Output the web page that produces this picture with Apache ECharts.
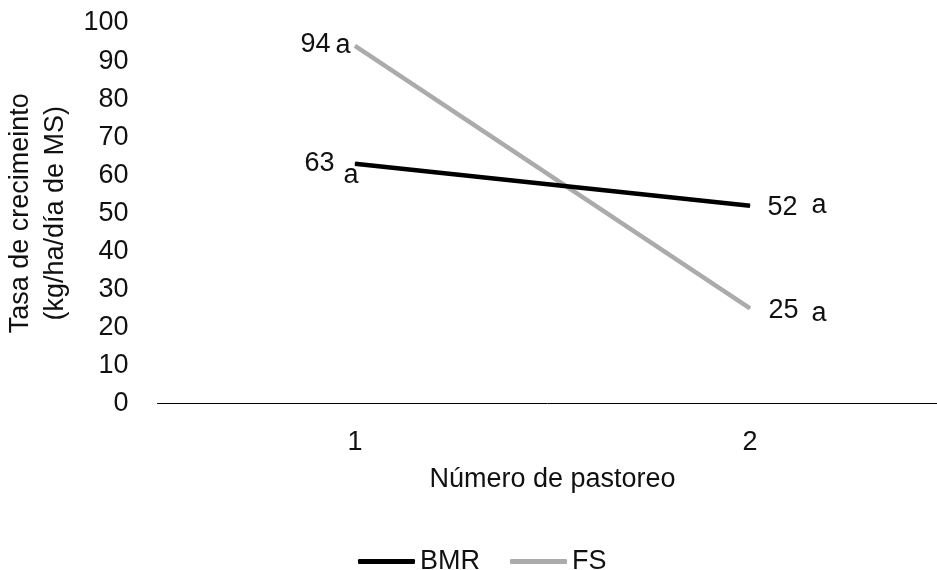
<!DOCTYPE html>
<html>
<head>
<meta charset="utf-8">
<script src="https://cdn.jsdelivr.net/npm/echarts@6/dist/echarts.min.js"></script>
<style>html,body{margin:0;padding:0;background:#fff}#c{width:937px;height:570px}</style>
</head>
<body>
<div id="c"></div>
<script>
const categories = ['1', '2'];
const bmrValues = [63, 52];
const fsValues = [94, 25];
const bmrLetters = ['a', 'a'];
const fsLetters = ['a', 'a'];
const yTicks = [0, 10, 20, 30, 40, 50, 60, 70, 80, 90, 100];

const FONT = '"Liberation Sans", Arial, sans-serif';
const FS_SIZE = 27;
const TXT = '#111';

const chart = echarts.init(document.getElementById('c'), null, {renderer: 'canvas'});

function valLabel(pos, distance, offset) {
  return {show: true, position: pos, distance: distance, offset: offset, opacity: 1,
    fontSize: FS_SIZE, fontFamily: FONT, color: TXT, formatter: '{c}'};
}
function letterLabel(text, pos, distance, offset) {
  return {show: true, position: pos, distance: distance, offset: offset, opacity: 1,
    fontSize: FS_SIZE, fontFamily: FONT, color: TXT, formatter: text};
}

// label styling per point (positions only, values come from the arrays)
const bmrValStyle = [valLabel('left', 20, [0, 0]), valLabel('right', 17, [0, 1.5])];
const fsValStyle = [valLabel('left', 24, [0, -1]), valLabel('right', 18, [0, 2])];
const bmrLetterStyle = [letterLabel(bmrLetters[0], 'inside', 0, [-4, 11.7]), letterLabel(bmrLetters[1], 'right', 61, [0, 0])];
const fsLetterStyle = [letterLabel(fsLetters[0], 'left', 4, [0, 0]), letterLabel(fsLetters[1], 'right', 61, [0, 5])];

function items(vals, styles) {
  return vals.map((v, i) => ({value: v, label: styles[i]}));
}

chart.setOption({
  animation: false,
  backgroundColor: '#fff',
  textStyle: {fontFamily: FONT},
  grid: {left: 157.5, top: 23, width: 790, bottom: 166.5, containLabel: false, outerBoundsMode: 'none'},
  legend: {
    data: ['BMR', 'FS'],
    left: 353, top: 543,
    itemWidth: 57, itemHeight: 5, itemGap: 30,
    textStyle: {fontSize: FS_SIZE, fontFamily: FONT, color: TXT},
    icon: 'roundRect'
  },
  xAxis: {
    type: 'category', data: categories, boundaryGap: true,
    axisLine: {lineStyle: {color: '#000', width: 1}},
    axisTick: {show: false},
    axisLabel: {fontSize: FS_SIZE, fontFamily: FONT, color: TXT, margin: 26},
    name: 'Número de pastoreo', nameLocation: 'middle', nameGap: 63,
    nameTextStyle: {fontSize: FS_SIZE, fontFamily: FONT, color: TXT}
  },
  yAxis: {
    type: 'value', min: yTicks[0], max: yTicks[yTicks.length - 1], interval: 10,
    axisLine: {show: false}, axisTick: {show: false}, splitLine: {show: false},
    axisLabel: {fontSize: FS_SIZE, fontFamily: FONT, color: TXT, margin: 29},
    name: 'Tasa de crecimeinto\n(kg/ha/día de MS)', nameLocation: 'middle', nameRotate: 90, nameGap: 73,
    nameTextStyle: {fontSize: FS_SIZE, fontFamily: FONT, color: TXT, lineHeight: 35, align: 'center'}
  },
  series: [
    {name: 'BMR', type: 'line', data: items(bmrValues, bmrValStyle),
     symbol: 'circle', symbolSize: 1, itemStyle: {color: '#000'},
     lineStyle: {color: '#000', width: 4.5}, z: 3},
    {name: 'FS', type: 'line', data: items(fsValues, fsValStyle),
     symbol: 'circle', symbolSize: 1, itemStyle: {color: '#ababab'},
     lineStyle: {color: '#ababab', width: 4.5}, z: 2},
    {name: 'BMR letters', type: 'scatter', data: items(bmrValues, bmrLetterStyle),
     symbolSize: 1, itemStyle: {color: 'rgba(0,0,0,0)', opacity: 1}, silent: true},
    {name: 'FS letters', type: 'scatter', data: items(fsValues, fsLetterStyle),
     symbolSize: 1, itemStyle: {color: 'rgba(0,0,0,0)', opacity: 1}, silent: true}
  ]
});
</script>
</body>
</html>
